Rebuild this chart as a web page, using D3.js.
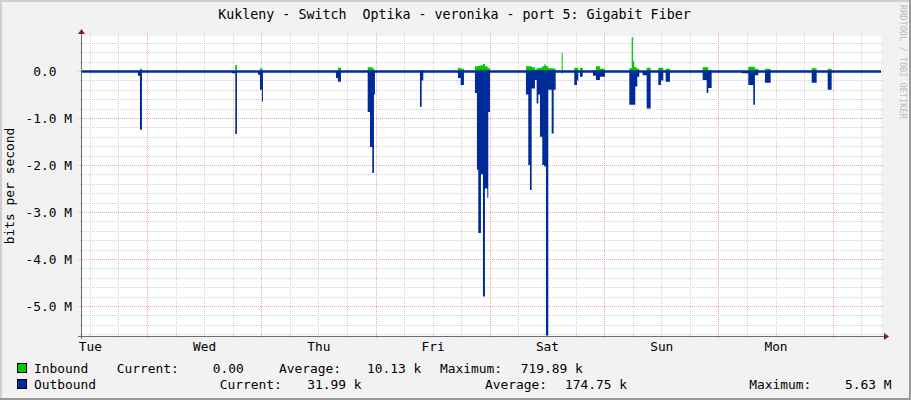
<!DOCTYPE html>
<html><head><meta charset="utf-8">
<script src="https://cdn.jsdelivr.net/npm/d3@7"></script>
<style>html,body{margin:0;padding:0;background:#f2f2f2;} svg{display:block;}</style>
</head><body><svg id="c" width="911" height="400"></svg>
<script>
// ---------- data ----------
const title = "Kukleny - Switch  Optika - veronika - port 5: Gigabit Fiber";
const yAxisTitle = "bits per second";
const watermark = "RRDTOOL / TOBI OETIKER";
const dayLabels = ["Tue", "Wed", "Thu", "Fri", "Sat", "Sun", "Mon"];
const dayLabelHours = [12, 36, 60, 84, 108, 132, 156];     // noon of each day (hours since Tue 00:00)
const yTickValues = [-5, -4, -3, -2, -1, 0];                // Mbit/s
const yTickLabels = ["-5.0 M", "-4.0 M", "-3.0 M", "-2.0 M", "-1.0 M", "0.0\u00a0\u00a0"];
const timeRange = [10.15, 178.15];                          // hours since Tue 00:00
const valueRange = [-5.64, 0.745];                          // Mbit/s (outbound drawn negative)

// sample start times (hours since Tue 00:00); values hold until next sample
const hours = [10.15, 22.11, 22.53, 22.95, 41.85, 42.55, 42.90, 47.31, 47.73, 48.15, 48.36,
  63.69, 64.11, 64.74, 70.35, 70.83, 71.32, 71.67, 71.88, 81.33, 81.69, 82.03,
  89.31, 89.88, 90.57, 92.88, 93.30, 93.58, 94.14, 94.56, 94.98, 95.47, 95.68, 96.03,
  103.59, 104.08, 104.43, 104.79, 105.48, 105.84, 106.18, 106.53, 107.02, 107.44, 107.79,
  108.28, 108.99, 109.41, 109.83, 111.09, 111.30, 113.74, 114.30, 114.58, 114.93, 115.50,
  117.66, 118.29, 119.13, 120.18, 125.29, 125.79, 126.06, 126.34, 126.55, 126.84, 126.97,
  127.39, 128.10, 128.94, 129.78, 131.38, 131.94, 132.43, 132.93, 133.83,
  140.70, 141.54, 141.88, 142.59, 148.89, 150.28, 151.33, 151.68, 152.38, 153.78, 154.98,
  163.59, 164.64, 166.95, 167.79, 178.15];
// Inbound, Mbit/s
const inbound = [0, 0, 0.05, 0, 0, 0.13, 0, 0, 0.06, 0.04, 0,
  0, 0.07, 0, 0.08, 0.08, 0.06, 0.02, 0, 0.02, 0.02, 0,
  0.07, 0.05, 0, 0.10, 0.10, 0.11, 0.12, 0.15, 0.10, 0.08, 0.06, 0,
  0.10, 0.10, 0.10, 0.08, 0.03, 0.06, 0.06, 0.07, 0.10, 0.14, 0.10,
  0.06, 0.06, 0.05, 0, 0.39, 0, 0.07, 0.07, 0, 0.07, 0,
  0.02, 0.10, 0.05, 0, 0.06, 0.72, 0.20, 0.08, 0.08, 0.05, 0.05,
  0, 0, 0.07, 0, 0.07, 0.07, 0, 0.05, 0,
  0.08, 0.08, 0.02, 0, 0, 0.09, 0.09, 0.05, 0, 0.05, 0,
  0.06, 0, 0.05, 0, 0];
// Outbound, Mbit/s
const outbound = [0.03, 0.10, 1.25, 0.03, 0.05, 1.34, 0.03, 0.08, 0.40, 0.65, 0.03,
  0.15, 0.23, 0.03, 0.87, 1.62, 2.17, 0.50, 0.03, 0.76, 0.20, 0.03,
  0.15, 0.30, 0.03, 0.47, 2.10, 3.45, 2.20, 4.80, 2.50, 2.70, 0.87, 0.03,
  0.50, 2.00, 2.53, 0.37, 0.19, 0.69, 0.50, 1.40, 2.00, 2.03, 5.63,
  0.40, 1.33, 0.40, 0.03, 0.05, 0.03, 0.30, 0.20, 0.03, 0.12, 0.03,
  0.10, 0.19, 0.12, 0.03, 0.72, 0.72, 0.72, 0.72, 0.33, 0.33, 0.12,
  0.03, 0.09, 0.80, 0.03, 0.30, 0.20, 0.03, 0.23, 0.03,
  0.19, 0.47, 0.36, 0.03, 0.05, 0.30, 0.72, 0.09, 0.03, 0.25, 0.03,
  0.25, 0.03, 0.40, 0.03, 0.03];

const seriesNames = ["Inbound", "Outbound"];
const seriesColors = ["#00cc00", "#002a97"];
const legendCurrent = ["0.00", "31.99 k"];
const legendAverage = ["10.13 k", "174.75 k"];
const legendMaximum = ["719.89 k", "5.63 M"];

// ---------- layout ----------
const W = 911, H = 400;
const PL = 81, PR = 881, PT = 36, PB = 336;
const FONT = "'DejaVu Sans Mono', monospace";
const svg = d3.select("#c");

const x = d3.scaleLinear().domain(timeRange).range([PL, PR]);
const y = d3.scaleLinear().domain(valueRange).range([PB, PT]);

// background + shading frame
svg.append("rect").attr("width", W).attr("height", H).attr("fill", "#f2f2f2");
svg.append("rect").attr("x", 0).attr("y", 0).attr("width", W).attr("height", 2).attr("fill", "#cfcfcf");
svg.append("rect").attr("x", 0).attr("y", 0).attr("width", 2).attr("height", H).attr("fill", "#cfcfcf");
svg.append("rect").attr("x", W - 2).attr("y", 0).attr("width", 2).attr("height", H).attr("fill", "#9a9a9a");
svg.append("rect").attr("x", 0).attr("y", H - 2).attr("width", W).attr("height", 2).attr("fill", "#9a9a9a");

// canvas
svg.append("rect").attr("x", PL).attr("y", PT).attr("width", PR - PL).attr("height", PB - PT).attr("fill", "#ffffff");

// grid
const grid = svg.append("g").attr("shape-rendering", "crispEdges");
const minorY = d3.range(-28, 4).map(i => +(i * 0.2).toFixed(1)).filter(v => Math.abs(v - Math.round(v)) > 1e-6);
grid.selectAll(".hmin").data(minorY).join("line")
  .attr("x1", PL - 3).attr("x2", PR + 3)
  .attr("y1", d => Math.round(y(d)) + 0.5).attr("y2", d => Math.round(y(d)) + 0.5)
  .attr("stroke", "#d2d2d2").attr("stroke-dasharray", "1,1");
const vTimes = d3.range(12, timeRange[1], 6);
grid.selectAll(".vmin").data(vTimes.filter(h => h % 24 !== 0)).join("line")
  .attr("x1", d => Math.round(x(d)) + 0.5).attr("x2", d => Math.round(x(d)) + 0.5)
  .attr("y1", PT - 3).attr("y2", PB + 3)
  .attr("stroke", "#d2d2d2").attr("stroke-dasharray", "1,1");
grid.selectAll(".hmaj").data(yTickValues).join("line")
  .attr("x1", PL - 3).attr("x2", PR + 3)
  .attr("y1", d => Math.round(y(d)) + 0.5).attr("y2", d => Math.round(y(d)) + 0.5)
  .attr("stroke", "#f2a6a6").attr("stroke-dasharray", "1,1");
grid.selectAll(".vmaj").data(vTimes.filter(h => h % 24 === 0)).join("line")
  .attr("x1", d => Math.round(x(d)) + 0.5).attr("x2", d => Math.round(x(d)) + 0.5)
  .attr("y1", PT - 3).attr("y2", PB + 3)
  .attr("stroke", "#f2a6a6").attr("stroke-dasharray", "1,1");

// data
const rows = hours.map((h, i) => ({ h, inb: inbound[i], out: outbound[i] }));
const outArea = d3.area().curve(d3.curveStepAfter)
  .x(d => x(d.h)).y0(y(0)).y1(d => y(-d.out));
const inArea = d3.area().curve(d3.curveStepAfter)
  .x(d => x(d.h)).y0(y(0)).y1(d => y(d.inb));
svg.append("path").datum(rows).attr("d", outArea).attr("fill", seriesColors[1]);
svg.append("path").datum(rows).attr("d", inArea).attr("fill", seriesColors[0]);
// zero rule
svg.append("path").datum(rows)
  .attr("d", d3.line().curve(d3.curveStepAfter).x(d => x(d.h)).y(() => y(0) + 0.3))
  .attr("fill", "none").attr("stroke", seriesColors[1]).attr("stroke-width", 2.3);

// axes lines
svg.append("line").attr("x1", PL + 0.5).attr("x2", PL + 0.5).attr("y1", PT - 3).attr("y2", PB + 3)
  .attr("stroke", "#6e6e6e").attr("shape-rendering", "crispEdges");
svg.append("line").attr("x1", PL - 3).attr("x2", PR + 4).attr("y1", PB + 0.5).attr("y2", PB + 0.5)
  .attr("stroke", "#6e6e6e").attr("shape-rendering", "crispEdges");
// arrows
svg.append("path").attr("d", `M${PL - 3},${PT - 2} L${PL + 4},${PT - 2} L${PL + 0.5},${PT - 7} Z`).attr("fill", "#7f1f1f");
svg.append("path").attr("d", `M${PR + 3},${PB - 3} L${PR + 3},${PB + 4} L${PR + 8},${PB + 0.5} Z`).attr("fill", "#7f1f1f");

// y axis labels
const yAxis = d3.axisLeft(y).tickValues(yTickValues).tickFormat((d, i) => yTickLabels[i]).tickSize(0).tickPadding(9);
const gy = svg.append("g").attr("transform", `translate(${PL},0)`).call(yAxis);
gy.select(".domain").remove();
gy.selectAll("text").attr("font-family", FONT).attr("font-size", "12.9px").attr("fill", "#000")
  .style("white-space", "pre");

// x axis labels
const xAxis = d3.axisBottom(x).tickValues(dayLabelHours).tickFormat((d, i) => dayLabels[i]).tickSize(0).tickPadding(5.9);
const gx = svg.append("g").attr("transform", `translate(0,${PB})`).call(xAxis);
gx.select(".domain").remove();
gx.selectAll("text").attr("font-family", FONT).attr("font-size", "12.8px").attr("fill", "#000");

// title
svg.append("text").attr("x", 454.5).attr("y", 18.5).attr("text-anchor", "middle")
  .attr("font-family", FONT).attr("font-size", "13.3px").style("white-space", "pre").text(title);

// y axis title
svg.append("text").attr("transform", `translate(13.5,186) rotate(-90)`).attr("text-anchor", "middle")
  .attr("font-family", FONT).attr("font-size", "12.9px").text(yAxisTitle);

// watermark
svg.append("text").attr("transform", `translate(899.5,5) rotate(90)`)
  .attr("font-family", FONT).attr("font-size", "8.6px").attr("fill", "#bdbdbd").text(watermark);

// legend
const lg = svg.append("g").attr("font-family", FONT).attr("font-size", "12.9px").attr("fill", "#000");
const rowY = [373, 389];
const colX = [
  { cur: 116.7, curV: 212.7, avg: 279, avgV: 367, max: 440, maxV: 520.7 },
  { cur: 219.7, curV: 307.3, avg: 485, avgV: 565, max: 749.3, maxV: 845 }
];
seriesNames.forEach((name, i) => {
  lg.append("rect").attr("x", 17.5).attr("y", rowY[i] - 9.5).attr("width", 9).attr("height", 9)
    .attr("fill", seriesColors[i]).attr("stroke", "#000").attr("stroke-width", 1);
  const c = colX[i];
  lg.append("text").attr("x", 34).attr("y", rowY[i]).text(name);
  lg.append("text").attr("x", c.cur).attr("y", rowY[i]).text("Current:");
  lg.append("text").attr("x", c.curV).attr("y", rowY[i]).text(legendCurrent[i]);
  lg.append("text").attr("x", c.avg).attr("y", rowY[i]).text("Average:");
  lg.append("text").attr("x", c.avgV).attr("y", rowY[i]).text(legendAverage[i]);
  lg.append("text").attr("x", c.max).attr("y", rowY[i]).text("Maximum:");
  lg.append("text").attr("x", c.maxV).attr("y", rowY[i]).text(legendMaximum[i]);
});
</script></body></html>
